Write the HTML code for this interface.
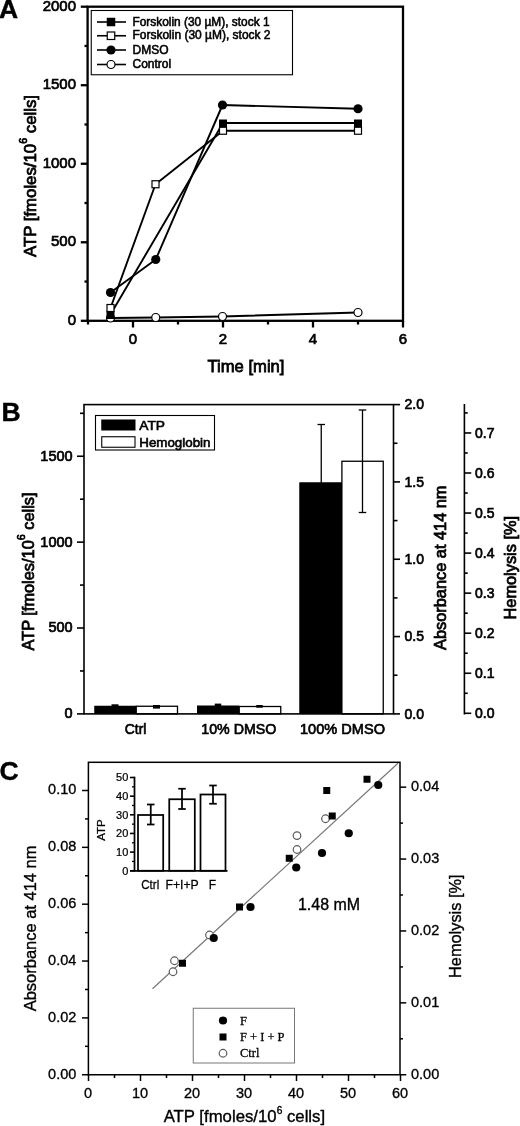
<!DOCTYPE html>
<html lang="en">
<head>
<meta charset="utf-8">
<title>Figure: ATP release and hemolysis</title>
<style>
html,body{margin:0;padding:0;background:#fff;}
body{width:520px;height:1126px;overflow:hidden;}
svg{display:block;font-family:"Liberation Sans", sans-serif;}
</style>
</head>
<body>
<svg width="520" height="1126" viewBox="0 0 520 1126">
<rect x="0" y="0" width="520" height="1126" fill="#fff"/>
<g id="panelA">
<rect x="87.6" y="6.7" width="315.4" height="314.1" fill="none" stroke="#000" stroke-width="2.3"/>
<polyline points="110.5,318 155.75,317.5 222.5,316.5 358,312.5" fill="none" stroke="#000" stroke-width="1.9" stroke-linejoin="round"/>
<circle cx="110.5" cy="318" r="4.0" fill="#fff" stroke="#000" stroke-width="1.2"/>
<circle cx="155.75" cy="317.5" r="4.0" fill="#fff" stroke="#000" stroke-width="1.2"/>
<circle cx="222.5" cy="316.5" r="4.0" fill="#fff" stroke="#000" stroke-width="1.2"/>
<circle cx="358" cy="312.5" r="4.0" fill="#fff" stroke="#000" stroke-width="1.2"/>
<polyline points="110.5,314.5 223,123 358,123" fill="none" stroke="#000" stroke-width="1.9" stroke-linejoin="round"/>
<rect x="106.5" y="311.0" width="8" height="8" fill="#000" stroke="#000" stroke-width="0"/>
<rect x="219.0" y="119.5" width="8" height="8" fill="#000" stroke="#000" stroke-width="0"/>
<rect x="354.0" y="119.5" width="8" height="8" fill="#000" stroke="#000" stroke-width="0"/>
<polyline points="110.5,308 155.5,184.25 223,130.75 358,130.75" fill="none" stroke="#000" stroke-width="1.9" stroke-linejoin="round"/>
<rect x="107.0" y="304.5" width="7" height="7" fill="#fff" stroke="#000" stroke-width="1.2"/>
<rect x="152.0" y="180.75" width="7" height="7" fill="#fff" stroke="#000" stroke-width="1.2"/>
<rect x="219.5" y="127.25" width="7" height="7" fill="#fff" stroke="#000" stroke-width="1.2"/>
<rect x="354.5" y="127.25" width="7" height="7" fill="#fff" stroke="#000" stroke-width="1.2"/>
<polyline points="110.5,292.5 155.75,259.5 222.5,105 358,108.75" fill="none" stroke="#000" stroke-width="1.9" stroke-linejoin="round"/>
<circle cx="110.5" cy="292.5" r="4.6" fill="#000" stroke="#000" stroke-width="0"/>
<circle cx="155.75" cy="259.5" r="4.6" fill="#000" stroke="#000" stroke-width="0"/>
<circle cx="222.5" cy="105" r="4.6" fill="#000" stroke="#000" stroke-width="0"/>
<circle cx="358" cy="108.75" r="4.6" fill="#000" stroke="#000" stroke-width="0"/>
<line x1="80.8" y1="320.8" x2="87.6" y2="320.8" stroke="#000" stroke-width="2.3" stroke-linecap="butt"/>
<text x="76" y="324.75" font-size="15" font-weight="normal" text-anchor="end" fill="#000" stroke="#000" stroke-width="0.7">0</text>
<line x1="84.5" y1="281.5375" x2="87.6" y2="281.5375" stroke="#000" stroke-width="2.3" stroke-linecap="butt"/>
<line x1="80.8" y1="242.275" x2="87.6" y2="242.275" stroke="#000" stroke-width="2.3" stroke-linecap="butt"/>
<text x="76" y="246.22" font-size="15" font-weight="normal" text-anchor="end" fill="#000" stroke="#000" stroke-width="0.7">500</text>
<line x1="84.5" y1="203.0125" x2="87.6" y2="203.0125" stroke="#000" stroke-width="2.3" stroke-linecap="butt"/>
<line x1="80.8" y1="163.75" x2="87.6" y2="163.75" stroke="#000" stroke-width="2.3" stroke-linecap="butt"/>
<text x="76" y="167.7" font-size="15" font-weight="normal" text-anchor="end" fill="#000" stroke="#000" stroke-width="0.7">1000</text>
<line x1="84.5" y1="124.4875" x2="87.6" y2="124.4875" stroke="#000" stroke-width="2.3" stroke-linecap="butt"/>
<line x1="80.8" y1="85.225" x2="87.6" y2="85.225" stroke="#000" stroke-width="2.3" stroke-linecap="butt"/>
<text x="76" y="89.17" font-size="15" font-weight="normal" text-anchor="end" fill="#000" stroke="#000" stroke-width="0.7">1500</text>
<line x1="84.5" y1="45.96249999999999" x2="87.6" y2="45.96249999999999" stroke="#000" stroke-width="2.3" stroke-linecap="butt"/>
<line x1="80.8" y1="6.699999999999989" x2="87.6" y2="6.699999999999989" stroke="#000" stroke-width="2.3" stroke-linecap="butt"/>
<text x="76" y="10.65" font-size="15" font-weight="normal" text-anchor="end" fill="#000" stroke="#000" stroke-width="0.7">2000</text>
<line x1="133" y1="320.8" x2="133" y2="327.5" stroke="#000" stroke-width="2.3" stroke-linecap="butt"/>
<text x="133" y="344.4" font-size="15" font-weight="normal" text-anchor="middle" fill="#000" stroke="#000" stroke-width="0.7">0</text>
<line x1="223" y1="320.8" x2="223" y2="327.5" stroke="#000" stroke-width="2.3" stroke-linecap="butt"/>
<text x="223" y="344.4" font-size="15" font-weight="normal" text-anchor="middle" fill="#000" stroke="#000" stroke-width="0.7">2</text>
<line x1="313" y1="320.8" x2="313" y2="327.5" stroke="#000" stroke-width="2.3" stroke-linecap="butt"/>
<text x="313" y="344.4" font-size="15" font-weight="normal" text-anchor="middle" fill="#000" stroke="#000" stroke-width="0.7">4</text>
<line x1="403" y1="320.8" x2="403" y2="327.5" stroke="#000" stroke-width="2.3" stroke-linecap="butt"/>
<text x="403" y="344.4" font-size="15" font-weight="normal" text-anchor="middle" fill="#000" stroke="#000" stroke-width="0.7">6</text>
<line x1="88" y1="320.8" x2="88" y2="324.5" stroke="#000" stroke-width="2.3" stroke-linecap="butt"/>
<line x1="178" y1="320.8" x2="178" y2="324.5" stroke="#000" stroke-width="2.3" stroke-linecap="butt"/>
<line x1="268" y1="320.8" x2="268" y2="324.5" stroke="#000" stroke-width="2.3" stroke-linecap="butt"/>
<line x1="358" y1="320.8" x2="358" y2="324.5" stroke="#000" stroke-width="2.3" stroke-linecap="butt"/>
<text x="246" y="372" font-size="16.5" font-weight="normal" text-anchor="middle" fill="#000" textLength="77" lengthAdjust="spacingAndGlyphs" stroke="#000" stroke-width="0.77">Time [min]</text>
<text x="36.0" y="176" font-size="16.5" font-weight="normal" text-anchor="middle" fill="#000" textLength="162" lengthAdjust="spacingAndGlyphs" transform="rotate(-90 36.0 176)" stroke="#000" stroke-width="0.77">ATP [fmoles/10<tspan font-size="10.5" dy="-9.5">6</tspan><tspan dy="9.5"> cells]</tspan></text>
<rect x="91.25" y="10.5" width="201.25" height="64.25" fill="#fff" stroke="#000" stroke-width="1.1"/>
<line x1="97" y1="22" x2="126" y2="22" stroke="#000" stroke-width="1.6" stroke-linecap="butt"/>
<rect x="106.75" y="17.75" width="8.5" height="8.5" fill="#000" stroke="#000" stroke-width="0"/>
<text x="132.5" y="25.5" font-size="12" font-weight="normal" text-anchor="start" fill="#000" textLength="137" lengthAdjust="spacingAndGlyphs" stroke="#000" stroke-width="0.56">Forskolin (30 µM), stock 1</text>
<line x1="97" y1="35.75" x2="126" y2="35.75" stroke="#000" stroke-width="1.6" stroke-linecap="butt"/>
<rect x="107.25" y="32.0" width="7.5" height="7.5" fill="#fff" stroke="#000" stroke-width="1.2"/>
<text x="132.5" y="39.25" font-size="12" font-weight="normal" text-anchor="start" fill="#000" textLength="138" lengthAdjust="spacingAndGlyphs" stroke="#000" stroke-width="0.56">Forskolin (30 µM), stock 2</text>
<line x1="97" y1="50" x2="126" y2="50" stroke="#000" stroke-width="1.6" stroke-linecap="butt"/>
<circle cx="111" cy="50" r="4.6" fill="#000" stroke="#000" stroke-width="0"/>
<text x="132.5" y="53.5" font-size="12" font-weight="normal" text-anchor="start" fill="#000" stroke="#000" stroke-width="0.56">DMSO</text>
<line x1="97" y1="64.5" x2="126" y2="64.5" stroke="#000" stroke-width="1.6" stroke-linecap="butt"/>
<circle cx="111" cy="64.5" r="4.0" fill="#fff" stroke="#000" stroke-width="1.2"/>
<text x="132.5" y="68.0" font-size="12" font-weight="normal" text-anchor="start" fill="#000" stroke="#000" stroke-width="0.56">Control</text>
<text x="-1" y="18.3" font-size="26.5" font-weight="bold" text-anchor="start" fill="#000" stroke="#000" stroke-width="0.4">A</text>
</g>
<g id="panelB">
<rect x="94.25" y="705.75" width="42.0" height="8.149999999999977" fill="#000" stroke="#000" stroke-width="0"/>
<rect x="136.25" y="706.25" width="41.25" height="7.649999999999977" fill="#fff" stroke="#000" stroke-width="1.3"/>
<rect x="197" y="705.5" width="42.25" height="8.399999999999977" fill="#000" stroke="#000" stroke-width="0"/>
<rect x="239.25" y="706.5" width="41.5" height="7.399999999999977" fill="#fff" stroke="#000" stroke-width="1.3"/>
<rect x="299.5" y="482.5" width="42.39999999999998" height="231.39999999999998" fill="#000" stroke="#000" stroke-width="0"/>
<rect x="341.9" y="461.25" width="41.35000000000002" height="252.64999999999998" fill="#fff" stroke="#000" stroke-width="1.3"/>
<rect x="111.5" y="704.3" width="7" height="3" fill="#000" stroke="#000" stroke-width="0"/>
<rect x="153" y="705" width="7" height="3.6" fill="#000" stroke="#000" stroke-width="0"/>
<rect x="214.75" y="703.6" width="6.5" height="3" fill="#000" stroke="#000" stroke-width="0"/>
<rect x="256.25" y="705" width="6.5" height="2.7" fill="#000" stroke="#000" stroke-width="0"/>
<line x1="321.25" y1="424.5" x2="321.25" y2="540" stroke="#000" stroke-width="1.3" stroke-linecap="butt"/>
<line x1="317.5" y1="424.5" x2="325.0" y2="424.5" stroke="#000" stroke-width="1.3" stroke-linecap="butt"/>
<line x1="317.5" y1="540" x2="325.0" y2="540" stroke="#000" stroke-width="1.3" stroke-linecap="butt"/>
<line x1="362.5" y1="410" x2="362.5" y2="512.5" stroke="#000" stroke-width="1.3" stroke-linecap="butt"/>
<line x1="358.75" y1="410" x2="366.25" y2="410" stroke="#000" stroke-width="1.3" stroke-linecap="butt"/>
<line x1="358.75" y1="512.5" x2="366.25" y2="512.5" stroke="#000" stroke-width="1.3" stroke-linecap="butt"/>
<rect x="299.5" y="482.5" width="42.39999999999998" height="231.39999999999998" fill="#000" stroke="#000" stroke-width="0"/>
<rect x="84" y="404.6" width="309.5" height="309.29999999999995" fill="none" stroke="#000" stroke-width="1.6"/>
<line x1="77" y1="713.9" x2="84" y2="713.9" stroke="#000" stroke-width="1.6" stroke-linecap="butt"/>
<text x="72.6" y="718.3" font-size="14.5" font-weight="normal" text-anchor="end" fill="#000" stroke="#000" stroke-width="0.68">0</text>
<line x1="77" y1="628.0166666666667" x2="84" y2="628.0166666666667" stroke="#000" stroke-width="1.6" stroke-linecap="butt"/>
<text x="72.6" y="632.42" font-size="14.5" font-weight="normal" text-anchor="end" fill="#000" stroke="#000" stroke-width="0.68">500</text>
<line x1="77" y1="542.1333333333333" x2="84" y2="542.1333333333333" stroke="#000" stroke-width="1.6" stroke-linecap="butt"/>
<text x="72.6" y="546.53" font-size="14.5" font-weight="normal" text-anchor="end" fill="#000" stroke="#000" stroke-width="0.68">1000</text>
<line x1="77" y1="456.25" x2="84" y2="456.25" stroke="#000" stroke-width="1.6" stroke-linecap="butt"/>
<text x="72.6" y="460.65" font-size="14.5" font-weight="normal" text-anchor="end" fill="#000" stroke="#000" stroke-width="0.68">1500</text>
<line x1="80" y1="670.9583333333333" x2="84" y2="670.9583333333333" stroke="#000" stroke-width="1.6" stroke-linecap="butt"/>
<line x1="80" y1="585.075" x2="84" y2="585.075" stroke="#000" stroke-width="1.6" stroke-linecap="butt"/>
<line x1="80" y1="499.19166666666666" x2="84" y2="499.19166666666666" stroke="#000" stroke-width="1.6" stroke-linecap="butt"/>
<line x1="80" y1="413.30833333333334" x2="84" y2="413.30833333333334" stroke="#000" stroke-width="1.6" stroke-linecap="butt"/>
<line x1="393.5" y1="713.9" x2="400" y2="713.9" stroke="#000" stroke-width="1.6" stroke-linecap="butt"/>
<text x="424" y="718.7" font-size="14" font-weight="normal" text-anchor="end" fill="#000" stroke="#000" stroke-width="0.65">0.0</text>
<line x1="393.5" y1="636.575" x2="400" y2="636.575" stroke="#000" stroke-width="1.6" stroke-linecap="butt"/>
<text x="424" y="641.38" font-size="14" font-weight="normal" text-anchor="end" fill="#000" stroke="#000" stroke-width="0.65">0.5</text>
<line x1="393.5" y1="559.25" x2="400" y2="559.25" stroke="#000" stroke-width="1.6" stroke-linecap="butt"/>
<text x="424" y="564.05" font-size="14" font-weight="normal" text-anchor="end" fill="#000" stroke="#000" stroke-width="0.65">1.0</text>
<line x1="393.5" y1="481.925" x2="400" y2="481.925" stroke="#000" stroke-width="1.6" stroke-linecap="butt"/>
<text x="424" y="486.73" font-size="14" font-weight="normal" text-anchor="end" fill="#000" stroke="#000" stroke-width="0.65">1.5</text>
<line x1="393.5" y1="404.6" x2="400" y2="404.6" stroke="#000" stroke-width="1.6" stroke-linecap="butt"/>
<text x="424" y="409.4" font-size="14" font-weight="normal" text-anchor="end" fill="#000" stroke="#000" stroke-width="0.65">2.0</text>
<line x1="393.5" y1="675.2375" x2="397.5" y2="675.2375" stroke="#000" stroke-width="1.6" stroke-linecap="butt"/>
<line x1="393.5" y1="597.9125" x2="397.5" y2="597.9125" stroke="#000" stroke-width="1.6" stroke-linecap="butt"/>
<line x1="393.5" y1="520.5875" x2="397.5" y2="520.5875" stroke="#000" stroke-width="1.6" stroke-linecap="butt"/>
<line x1="393.5" y1="443.26250000000005" x2="397.5" y2="443.26250000000005" stroke="#000" stroke-width="1.6" stroke-linecap="butt"/>
<line x1="464.4" y1="404.0" x2="464.4" y2="714.5" stroke="#000" stroke-width="1.6" stroke-linecap="butt"/>
<line x1="464.4" y1="713.3" x2="471.25" y2="713.3" stroke="#000" stroke-width="1.6" stroke-linecap="butt"/>
<text x="475" y="718.3" font-size="14" font-weight="normal" text-anchor="start" fill="#000" stroke="#000" stroke-width="0.65">0.0</text>
<line x1="464.4" y1="693.275" x2="467.75" y2="693.275" stroke="#000" stroke-width="1.6" stroke-linecap="butt"/>
<line x1="464.4" y1="673.25" x2="471.25" y2="673.25" stroke="#000" stroke-width="1.6" stroke-linecap="butt"/>
<text x="475" y="678.25" font-size="14" font-weight="normal" text-anchor="start" fill="#000" stroke="#000" stroke-width="0.65">0.1</text>
<line x1="464.4" y1="653.225" x2="467.75" y2="653.225" stroke="#000" stroke-width="1.6" stroke-linecap="butt"/>
<line x1="464.4" y1="633.1999999999999" x2="471.25" y2="633.1999999999999" stroke="#000" stroke-width="1.6" stroke-linecap="butt"/>
<text x="475" y="638.2" font-size="14" font-weight="normal" text-anchor="start" fill="#000" stroke="#000" stroke-width="0.65">0.2</text>
<line x1="464.4" y1="613.175" x2="467.75" y2="613.175" stroke="#000" stroke-width="1.6" stroke-linecap="butt"/>
<line x1="464.4" y1="593.15" x2="471.25" y2="593.15" stroke="#000" stroke-width="1.6" stroke-linecap="butt"/>
<text x="475" y="598.15" font-size="14" font-weight="normal" text-anchor="start" fill="#000" stroke="#000" stroke-width="0.65">0.3</text>
<line x1="464.4" y1="573.125" x2="467.75" y2="573.125" stroke="#000" stroke-width="1.6" stroke-linecap="butt"/>
<line x1="464.4" y1="553.0999999999999" x2="471.25" y2="553.0999999999999" stroke="#000" stroke-width="1.6" stroke-linecap="butt"/>
<text x="475" y="558.1" font-size="14" font-weight="normal" text-anchor="start" fill="#000" stroke="#000" stroke-width="0.65">0.4</text>
<line x1="464.4" y1="533.0749999999999" x2="467.75" y2="533.0749999999999" stroke="#000" stroke-width="1.6" stroke-linecap="butt"/>
<line x1="464.4" y1="513.05" x2="471.25" y2="513.05" stroke="#000" stroke-width="1.6" stroke-linecap="butt"/>
<text x="475" y="518.05" font-size="14" font-weight="normal" text-anchor="start" fill="#000" stroke="#000" stroke-width="0.65">0.5</text>
<line x1="464.4" y1="493.025" x2="467.75" y2="493.025" stroke="#000" stroke-width="1.6" stroke-linecap="butt"/>
<line x1="464.4" y1="472.99999999999994" x2="471.25" y2="472.99999999999994" stroke="#000" stroke-width="1.6" stroke-linecap="butt"/>
<text x="475" y="478.0" font-size="14" font-weight="normal" text-anchor="start" fill="#000" stroke="#000" stroke-width="0.65">0.6</text>
<line x1="464.4" y1="452.97499999999997" x2="467.75" y2="452.97499999999997" stroke="#000" stroke-width="1.6" stroke-linecap="butt"/>
<line x1="464.4" y1="432.95" x2="471.25" y2="432.95" stroke="#000" stroke-width="1.6" stroke-linecap="butt"/>
<text x="475" y="437.95" font-size="14" font-weight="normal" text-anchor="start" fill="#000" stroke="#000" stroke-width="0.65">0.7</text>
<line x1="464.4" y1="412.925" x2="467.75" y2="412.925" stroke="#000" stroke-width="1.6" stroke-linecap="butt"/>
<text x="135.6" y="734.25" font-size="14" font-weight="normal" text-anchor="middle" fill="#000" textLength="21.5" lengthAdjust="spacingAndGlyphs" stroke="#000" stroke-width="0.65">Ctrl</text>
<text x="238.75" y="734.25" font-size="14" font-weight="normal" text-anchor="middle" fill="#000" textLength="75" lengthAdjust="spacingAndGlyphs" stroke="#000" stroke-width="0.65">10% DMSO</text>
<text x="342.5" y="734.25" font-size="14" font-weight="normal" text-anchor="middle" fill="#000" textLength="85" lengthAdjust="spacingAndGlyphs" stroke="#000" stroke-width="0.65">100% DMSO</text>
<text x="34.1" y="571.5" font-size="16" font-weight="normal" text-anchor="middle" fill="#000" textLength="158" lengthAdjust="spacingAndGlyphs" transform="rotate(-90 34.1 571.5)" stroke="#000" stroke-width="0.75">ATP [fmoles/10<tspan font-size="10.5" dy="-9.4">6</tspan><tspan dy="9.4"> cells]</tspan></text>
<text x="446.25" y="567.75" font-size="16" font-weight="normal" text-anchor="middle" fill="#000" textLength="164.5" lengthAdjust="spacingAndGlyphs" transform="rotate(-90 446.25 567.75)" stroke="#000" stroke-width="0.75">Absorbance at 414 nm</text>
<text x="516.25" y="567.75" font-size="16" font-weight="normal" text-anchor="middle" fill="#000" textLength="103.5" lengthAdjust="spacingAndGlyphs" transform="rotate(-90 516.25 567.75)" stroke="#000" stroke-width="0.75">Hemolysis [%]</text>
<rect x="95.5" y="415.5" width="119" height="34.5" fill="#fff" stroke="#000" stroke-width="1.1"/>
<rect x="101.25" y="419.5" width="34.25" height="11" fill="#000" stroke="#000" stroke-width="0"/>
<rect x="101.75" y="436.75" width="33.25" height="10.5" fill="#fff" stroke="#000" stroke-width="1.1"/>
<text x="139.25" y="430" font-size="13.5" font-weight="normal" text-anchor="start" fill="#000" textLength="25.75" lengthAdjust="spacingAndGlyphs" stroke="#000" stroke-width="0.63">ATP</text>
<text x="139.25" y="447" font-size="13.5" font-weight="normal" text-anchor="start" fill="#000" textLength="71.25" lengthAdjust="spacingAndGlyphs" stroke="#000" stroke-width="0.63">Hemoglobin</text>
<text x="1.5" y="421.3" font-size="26.5" font-weight="bold" text-anchor="start" fill="#000" stroke="#000" stroke-width="0.4">B</text>
</g>
<g id="panelC">
<line x1="152.5" y1="988.75" x2="398" y2="763.2" stroke="#777" stroke-width="1.2" stroke-linecap="butt"/>
<circle cx="209.5" cy="935" r="3.8" fill="#fff" stroke="#5a5a5a" stroke-width="1.2"/>
<circle cx="174.5" cy="960.75" r="3.8" fill="#fff" stroke="#5a5a5a" stroke-width="1.2"/>
<circle cx="173" cy="971.75" r="3.8" fill="#fff" stroke="#5a5a5a" stroke-width="1.2"/>
<circle cx="325.5" cy="818.75" r="3.8" fill="#fff" stroke="#5a5a5a" stroke-width="1.2"/>
<circle cx="297" cy="835.6" r="3.8" fill="#fff" stroke="#5a5a5a" stroke-width="1.2"/>
<circle cx="297" cy="849.5" r="3.8" fill="#fff" stroke="#5a5a5a" stroke-width="1.2"/>
<rect x="236.0" y="903.5" width="7" height="7" fill="#000" stroke="#000" stroke-width="0"/>
<rect x="179.0" y="959.75" width="7" height="7" fill="#000" stroke="#000" stroke-width="0"/>
<rect x="363.5" y="775.75" width="7" height="7" fill="#000" stroke="#000" stroke-width="0"/>
<rect x="323.25" y="787.0" width="7" height="7" fill="#000" stroke="#000" stroke-width="0"/>
<rect x="328.75" y="812.5" width="7" height="7" fill="#000" stroke="#000" stroke-width="0"/>
<rect x="285.75" y="854.75" width="7" height="7" fill="#000" stroke="#000" stroke-width="0"/>
<circle cx="250.5" cy="907" r="4.1" fill="#000" stroke="#000" stroke-width="0"/>
<circle cx="213.75" cy="938" r="4.1" fill="#000" stroke="#000" stroke-width="0"/>
<circle cx="378.25" cy="785" r="4.1" fill="#000" stroke="#000" stroke-width="0"/>
<circle cx="348.75" cy="833.25" r="4.1" fill="#000" stroke="#000" stroke-width="0"/>
<circle cx="322" cy="853" r="4.1" fill="#000" stroke="#000" stroke-width="0"/>
<circle cx="296.25" cy="867.5" r="4.1" fill="#000" stroke="#000" stroke-width="0"/>
<rect x="88.4" y="762.3" width="311.6" height="312.45000000000005" fill="none" stroke="#000" stroke-width="1.5"/>
<line x1="82" y1="1074.75" x2="88.4" y2="1074.75" stroke="#000" stroke-width="1.5" stroke-linecap="butt"/>
<text x="76.3" y="1078.55" font-size="14.5" font-weight="normal" text-anchor="end" fill="#000" stroke="#000" stroke-width="0.32">0.00</text>
<line x1="85" y1="1046.325" x2="88.4" y2="1046.325" stroke="#000" stroke-width="1.5" stroke-linecap="butt"/>
<line x1="82" y1="1017.9" x2="88.4" y2="1017.9" stroke="#000" stroke-width="1.5" stroke-linecap="butt"/>
<text x="76.3" y="1021.7" font-size="14.5" font-weight="normal" text-anchor="end" fill="#000" stroke="#000" stroke-width="0.32">0.02</text>
<line x1="85" y1="989.475" x2="88.4" y2="989.475" stroke="#000" stroke-width="1.5" stroke-linecap="butt"/>
<line x1="82" y1="961.05" x2="88.4" y2="961.05" stroke="#000" stroke-width="1.5" stroke-linecap="butt"/>
<text x="76.3" y="964.85" font-size="14.5" font-weight="normal" text-anchor="end" fill="#000" stroke="#000" stroke-width="0.32">0.04</text>
<line x1="85" y1="932.625" x2="88.4" y2="932.625" stroke="#000" stroke-width="1.5" stroke-linecap="butt"/>
<line x1="82" y1="904.2" x2="88.4" y2="904.2" stroke="#000" stroke-width="1.5" stroke-linecap="butt"/>
<text x="76.3" y="908.0" font-size="14.5" font-weight="normal" text-anchor="end" fill="#000" stroke="#000" stroke-width="0.32">0.06</text>
<line x1="85" y1="875.7750000000001" x2="88.4" y2="875.7750000000001" stroke="#000" stroke-width="1.5" stroke-linecap="butt"/>
<line x1="82" y1="847.35" x2="88.4" y2="847.35" stroke="#000" stroke-width="1.5" stroke-linecap="butt"/>
<text x="76.3" y="851.15" font-size="14.5" font-weight="normal" text-anchor="end" fill="#000" stroke="#000" stroke-width="0.32">0.08</text>
<line x1="85" y1="818.9250000000001" x2="88.4" y2="818.9250000000001" stroke="#000" stroke-width="1.5" stroke-linecap="butt"/>
<line x1="82" y1="790.5" x2="88.4" y2="790.5" stroke="#000" stroke-width="1.5" stroke-linecap="butt"/>
<text x="76.3" y="794.3" font-size="14.5" font-weight="normal" text-anchor="end" fill="#000" stroke="#000" stroke-width="0.32">0.10</text>
<line x1="88.5" y1="1074.75" x2="88.5" y2="1081" stroke="#000" stroke-width="1.5" stroke-linecap="butt"/>
<text x="88.0" y="1098" font-size="14.5" font-weight="normal" text-anchor="middle" fill="#000" stroke="#000" stroke-width="0.32">0</text>
<line x1="114.5" y1="1074.75" x2="114.5" y2="1078" stroke="#000" stroke-width="1.5" stroke-linecap="butt"/>
<line x1="140.5" y1="1074.75" x2="140.5" y2="1081" stroke="#000" stroke-width="1.5" stroke-linecap="butt"/>
<text x="140.0" y="1098" font-size="14.5" font-weight="normal" text-anchor="middle" fill="#000" stroke="#000" stroke-width="0.32">10</text>
<line x1="166.5" y1="1074.75" x2="166.5" y2="1078" stroke="#000" stroke-width="1.5" stroke-linecap="butt"/>
<line x1="192.5" y1="1074.75" x2="192.5" y2="1081" stroke="#000" stroke-width="1.5" stroke-linecap="butt"/>
<text x="192.0" y="1098" font-size="14.5" font-weight="normal" text-anchor="middle" fill="#000" stroke="#000" stroke-width="0.32">20</text>
<line x1="218.5" y1="1074.75" x2="218.5" y2="1078" stroke="#000" stroke-width="1.5" stroke-linecap="butt"/>
<line x1="244.5" y1="1074.75" x2="244.5" y2="1081" stroke="#000" stroke-width="1.5" stroke-linecap="butt"/>
<text x="244.0" y="1098" font-size="14.5" font-weight="normal" text-anchor="middle" fill="#000" stroke="#000" stroke-width="0.32">30</text>
<line x1="270.5" y1="1074.75" x2="270.5" y2="1078" stroke="#000" stroke-width="1.5" stroke-linecap="butt"/>
<line x1="296.5" y1="1074.75" x2="296.5" y2="1081" stroke="#000" stroke-width="1.5" stroke-linecap="butt"/>
<text x="296.0" y="1098" font-size="14.5" font-weight="normal" text-anchor="middle" fill="#000" stroke="#000" stroke-width="0.32">40</text>
<line x1="322.5" y1="1074.75" x2="322.5" y2="1078" stroke="#000" stroke-width="1.5" stroke-linecap="butt"/>
<line x1="348.5" y1="1074.75" x2="348.5" y2="1081" stroke="#000" stroke-width="1.5" stroke-linecap="butt"/>
<text x="348.0" y="1098" font-size="14.5" font-weight="normal" text-anchor="middle" fill="#000" stroke="#000" stroke-width="0.32">50</text>
<line x1="374.5" y1="1074.75" x2="374.5" y2="1078" stroke="#000" stroke-width="1.5" stroke-linecap="butt"/>
<line x1="400.5" y1="1074.75" x2="400.5" y2="1081" stroke="#000" stroke-width="1.5" stroke-linecap="butt"/>
<text x="400.0" y="1098" font-size="14.5" font-weight="normal" text-anchor="middle" fill="#000" stroke="#000" stroke-width="0.32">60</text>
<line x1="400" y1="1074.75" x2="406.25" y2="1074.75" stroke="#000" stroke-width="1.5" stroke-linecap="butt"/>
<text x="411" y="1078.95" font-size="14.5" font-weight="normal" text-anchor="start" fill="#000" stroke="#000" stroke-width="0.32">0.00</text>
<line x1="400" y1="1038.8" x2="403" y2="1038.8" stroke="#000" stroke-width="1.5" stroke-linecap="butt"/>
<line x1="400" y1="1002.85" x2="406.25" y2="1002.85" stroke="#000" stroke-width="1.5" stroke-linecap="butt"/>
<text x="411" y="1007.05" font-size="14.5" font-weight="normal" text-anchor="start" fill="#000" stroke="#000" stroke-width="0.32">0.01</text>
<line x1="400" y1="966.9" x2="403" y2="966.9" stroke="#000" stroke-width="1.5" stroke-linecap="butt"/>
<line x1="400" y1="930.95" x2="406.25" y2="930.95" stroke="#000" stroke-width="1.5" stroke-linecap="butt"/>
<text x="411" y="935.15" font-size="14.5" font-weight="normal" text-anchor="start" fill="#000" stroke="#000" stroke-width="0.32">0.02</text>
<line x1="400" y1="895.0" x2="403" y2="895.0" stroke="#000" stroke-width="1.5" stroke-linecap="butt"/>
<line x1="400" y1="859.05" x2="406.25" y2="859.05" stroke="#000" stroke-width="1.5" stroke-linecap="butt"/>
<text x="411" y="863.25" font-size="14.5" font-weight="normal" text-anchor="start" fill="#000" stroke="#000" stroke-width="0.32">0.03</text>
<line x1="400" y1="823.0999999999999" x2="403" y2="823.0999999999999" stroke="#000" stroke-width="1.5" stroke-linecap="butt"/>
<line x1="400" y1="787.15" x2="406.25" y2="787.15" stroke="#000" stroke-width="1.5" stroke-linecap="butt"/>
<text x="411" y="791.35" font-size="14.5" font-weight="normal" text-anchor="start" fill="#000" stroke="#000" stroke-width="0.32">0.04</text>
<text x="244.4" y="1121.5" font-size="16.5" font-weight="normal" text-anchor="middle" fill="#000" textLength="161.5" lengthAdjust="spacingAndGlyphs" stroke="#000" stroke-width="0.36">ATP [fmoles/10<tspan font-size="10" dy="-7.8">6</tspan><tspan dy="7.8"> cells]</tspan></text>
<text x="36.5" y="928.4" font-size="16.5" font-weight="normal" text-anchor="middle" fill="#000" textLength="165.75" lengthAdjust="spacingAndGlyphs" transform="rotate(-90 36.5 928.4)" stroke="#000" stroke-width="0.36">Absorbance at 414 nm</text>
<text x="461.25" y="926.25" font-size="16.5" font-weight="normal" text-anchor="middle" fill="#000" textLength="103.5" lengthAdjust="spacingAndGlyphs" transform="rotate(-90 461.25 926.25)" stroke="#000" stroke-width="0.36">Hemolysis [%]</text>
<text x="298" y="910" font-size="16" font-weight="normal" text-anchor="start" fill="#000" textLength="62" lengthAdjust="spacingAndGlyphs" stroke="#000" stroke-width="0.35">1.48 mM</text>
<rect x="193.25" y="1008.25" width="101.25" height="54.75" fill="#fff" stroke="#777" stroke-width="1"/>
<circle cx="223" cy="1020.5" r="4.1" fill="#000" stroke="#000" stroke-width="0"/>
<rect x="219.5" y="1033.5" width="7" height="7" fill="#000" stroke="#000" stroke-width="0"/>
<circle cx="223" cy="1053.25" r="3.8" fill="#fff" stroke="#5a5a5a" stroke-width="1.2"/>
<text x="240" y="1025" font-size="12.5" font-weight="normal" text-anchor="start" fill="#000" font-family='"Liberation Serif", serif' stroke="#000" stroke-width="0.28">F</text>
<text x="240" y="1041.25" font-size="12.5" font-weight="normal" text-anchor="start" fill="#000" font-family='"Liberation Serif", serif' textLength="44.5" lengthAdjust="spacingAndGlyphs" stroke="#000" stroke-width="0.28">F + I + P</text>
<text x="240" y="1056.75" font-size="12.5" font-weight="normal" text-anchor="start" fill="#000" font-family='"Liberation Serif", serif' textLength="19.5" lengthAdjust="spacingAndGlyphs" stroke="#000" stroke-width="0.28">Ctrl</text>
<rect x="138" y="815" width="25.19999999999999" height="55.75" fill="#fff" stroke="#000" stroke-width="1.75"/>
<rect x="169.25" y="799.25" width="25.55000000000001" height="71.5" fill="#fff" stroke="#000" stroke-width="1.75"/>
<rect x="200.5" y="794.5" width="25.0" height="76.25" fill="#fff" stroke="#000" stroke-width="1.75"/>
<line x1="150.75" y1="804.5" x2="150.75" y2="824.5" stroke="#000" stroke-width="1.75" stroke-linecap="butt"/>
<line x1="147.0" y1="804.5" x2="154.5" y2="804.5" stroke="#000" stroke-width="1.75" stroke-linecap="butt"/>
<line x1="147.0" y1="824.5" x2="154.5" y2="824.5" stroke="#000" stroke-width="1.75" stroke-linecap="butt"/>
<line x1="182" y1="788.75" x2="182" y2="809" stroke="#000" stroke-width="1.75" stroke-linecap="butt"/>
<line x1="178.25" y1="788.75" x2="185.75" y2="788.75" stroke="#000" stroke-width="1.75" stroke-linecap="butt"/>
<line x1="178.25" y1="809" x2="185.75" y2="809" stroke="#000" stroke-width="1.75" stroke-linecap="butt"/>
<line x1="213" y1="785.5" x2="213" y2="803.75" stroke="#000" stroke-width="1.75" stroke-linecap="butt"/>
<line x1="209.25" y1="785.5" x2="216.75" y2="785.5" stroke="#000" stroke-width="1.75" stroke-linecap="butt"/>
<line x1="209.25" y1="803.75" x2="216.75" y2="803.75" stroke="#000" stroke-width="1.75" stroke-linecap="butt"/>
<line x1="134.5" y1="776.7" x2="134.5" y2="871.55" stroke="#000" stroke-width="1.75" stroke-linecap="butt"/>
<line x1="130" y1="870.75" x2="227.5" y2="870.75" stroke="#000" stroke-width="1.75" stroke-linecap="butt"/>
<line x1="130" y1="870.75" x2="134.5" y2="870.75" stroke="#000" stroke-width="1.6" stroke-linecap="butt"/>
<text x="128.3" y="874.65" font-size="11" font-weight="normal" text-anchor="end" fill="#000" stroke="#000" stroke-width="0.24">0</text>
<line x1="132" y1="861.425" x2="134.5" y2="861.425" stroke="#000" stroke-width="1.3" stroke-linecap="butt"/>
<line x1="130" y1="852.1" x2="134.5" y2="852.1" stroke="#000" stroke-width="1.6" stroke-linecap="butt"/>
<text x="128.3" y="856.0" font-size="11" font-weight="normal" text-anchor="end" fill="#000" stroke="#000" stroke-width="0.24">10</text>
<line x1="132" y1="842.775" x2="134.5" y2="842.775" stroke="#000" stroke-width="1.3" stroke-linecap="butt"/>
<line x1="130" y1="833.45" x2="134.5" y2="833.45" stroke="#000" stroke-width="1.6" stroke-linecap="butt"/>
<text x="128.3" y="837.35" font-size="11" font-weight="normal" text-anchor="end" fill="#000" stroke="#000" stroke-width="0.24">20</text>
<line x1="132" y1="824.125" x2="134.5" y2="824.125" stroke="#000" stroke-width="1.3" stroke-linecap="butt"/>
<line x1="130" y1="814.8" x2="134.5" y2="814.8" stroke="#000" stroke-width="1.6" stroke-linecap="butt"/>
<text x="128.3" y="818.7" font-size="11" font-weight="normal" text-anchor="end" fill="#000" stroke="#000" stroke-width="0.24">30</text>
<line x1="132" y1="805.4749999999999" x2="134.5" y2="805.4749999999999" stroke="#000" stroke-width="1.3" stroke-linecap="butt"/>
<line x1="130" y1="796.15" x2="134.5" y2="796.15" stroke="#000" stroke-width="1.6" stroke-linecap="butt"/>
<text x="128.3" y="800.05" font-size="11" font-weight="normal" text-anchor="end" fill="#000" stroke="#000" stroke-width="0.24">40</text>
<line x1="132" y1="786.8249999999999" x2="134.5" y2="786.8249999999999" stroke="#000" stroke-width="1.3" stroke-linecap="butt"/>
<line x1="130" y1="777.5" x2="134.5" y2="777.5" stroke="#000" stroke-width="1.6" stroke-linecap="butt"/>
<text x="128.3" y="781.4" font-size="11" font-weight="normal" text-anchor="end" fill="#000" stroke="#000" stroke-width="0.24">50</text>
<text x="105" y="830" font-size="11" font-weight="normal" text-anchor="middle" fill="#000" textLength="21.5" lengthAdjust="spacingAndGlyphs" transform="rotate(-90 105 830)" stroke="#000" stroke-width="0.24">ATP</text>
<text x="150.25" y="888.75" font-size="12" font-weight="normal" text-anchor="middle" fill="#000" textLength="18" lengthAdjust="spacingAndGlyphs" stroke="#000" stroke-width="0.26">Ctrl</text>
<text x="182.1" y="888.75" font-size="12" font-weight="normal" text-anchor="middle" fill="#000" textLength="33.25" lengthAdjust="spacingAndGlyphs" stroke="#000" stroke-width="0.26">F+I+P</text>
<text x="212.5" y="888.75" font-size="12" font-weight="normal" text-anchor="middle" fill="#000" stroke="#000" stroke-width="0.26">F</text>
<text x="-0.4" y="780.2" font-size="26.5" font-weight="bold" text-anchor="start" fill="#000" stroke="#000" stroke-width="0.4">C</text>
</g>
</svg>
</body>
</html>
